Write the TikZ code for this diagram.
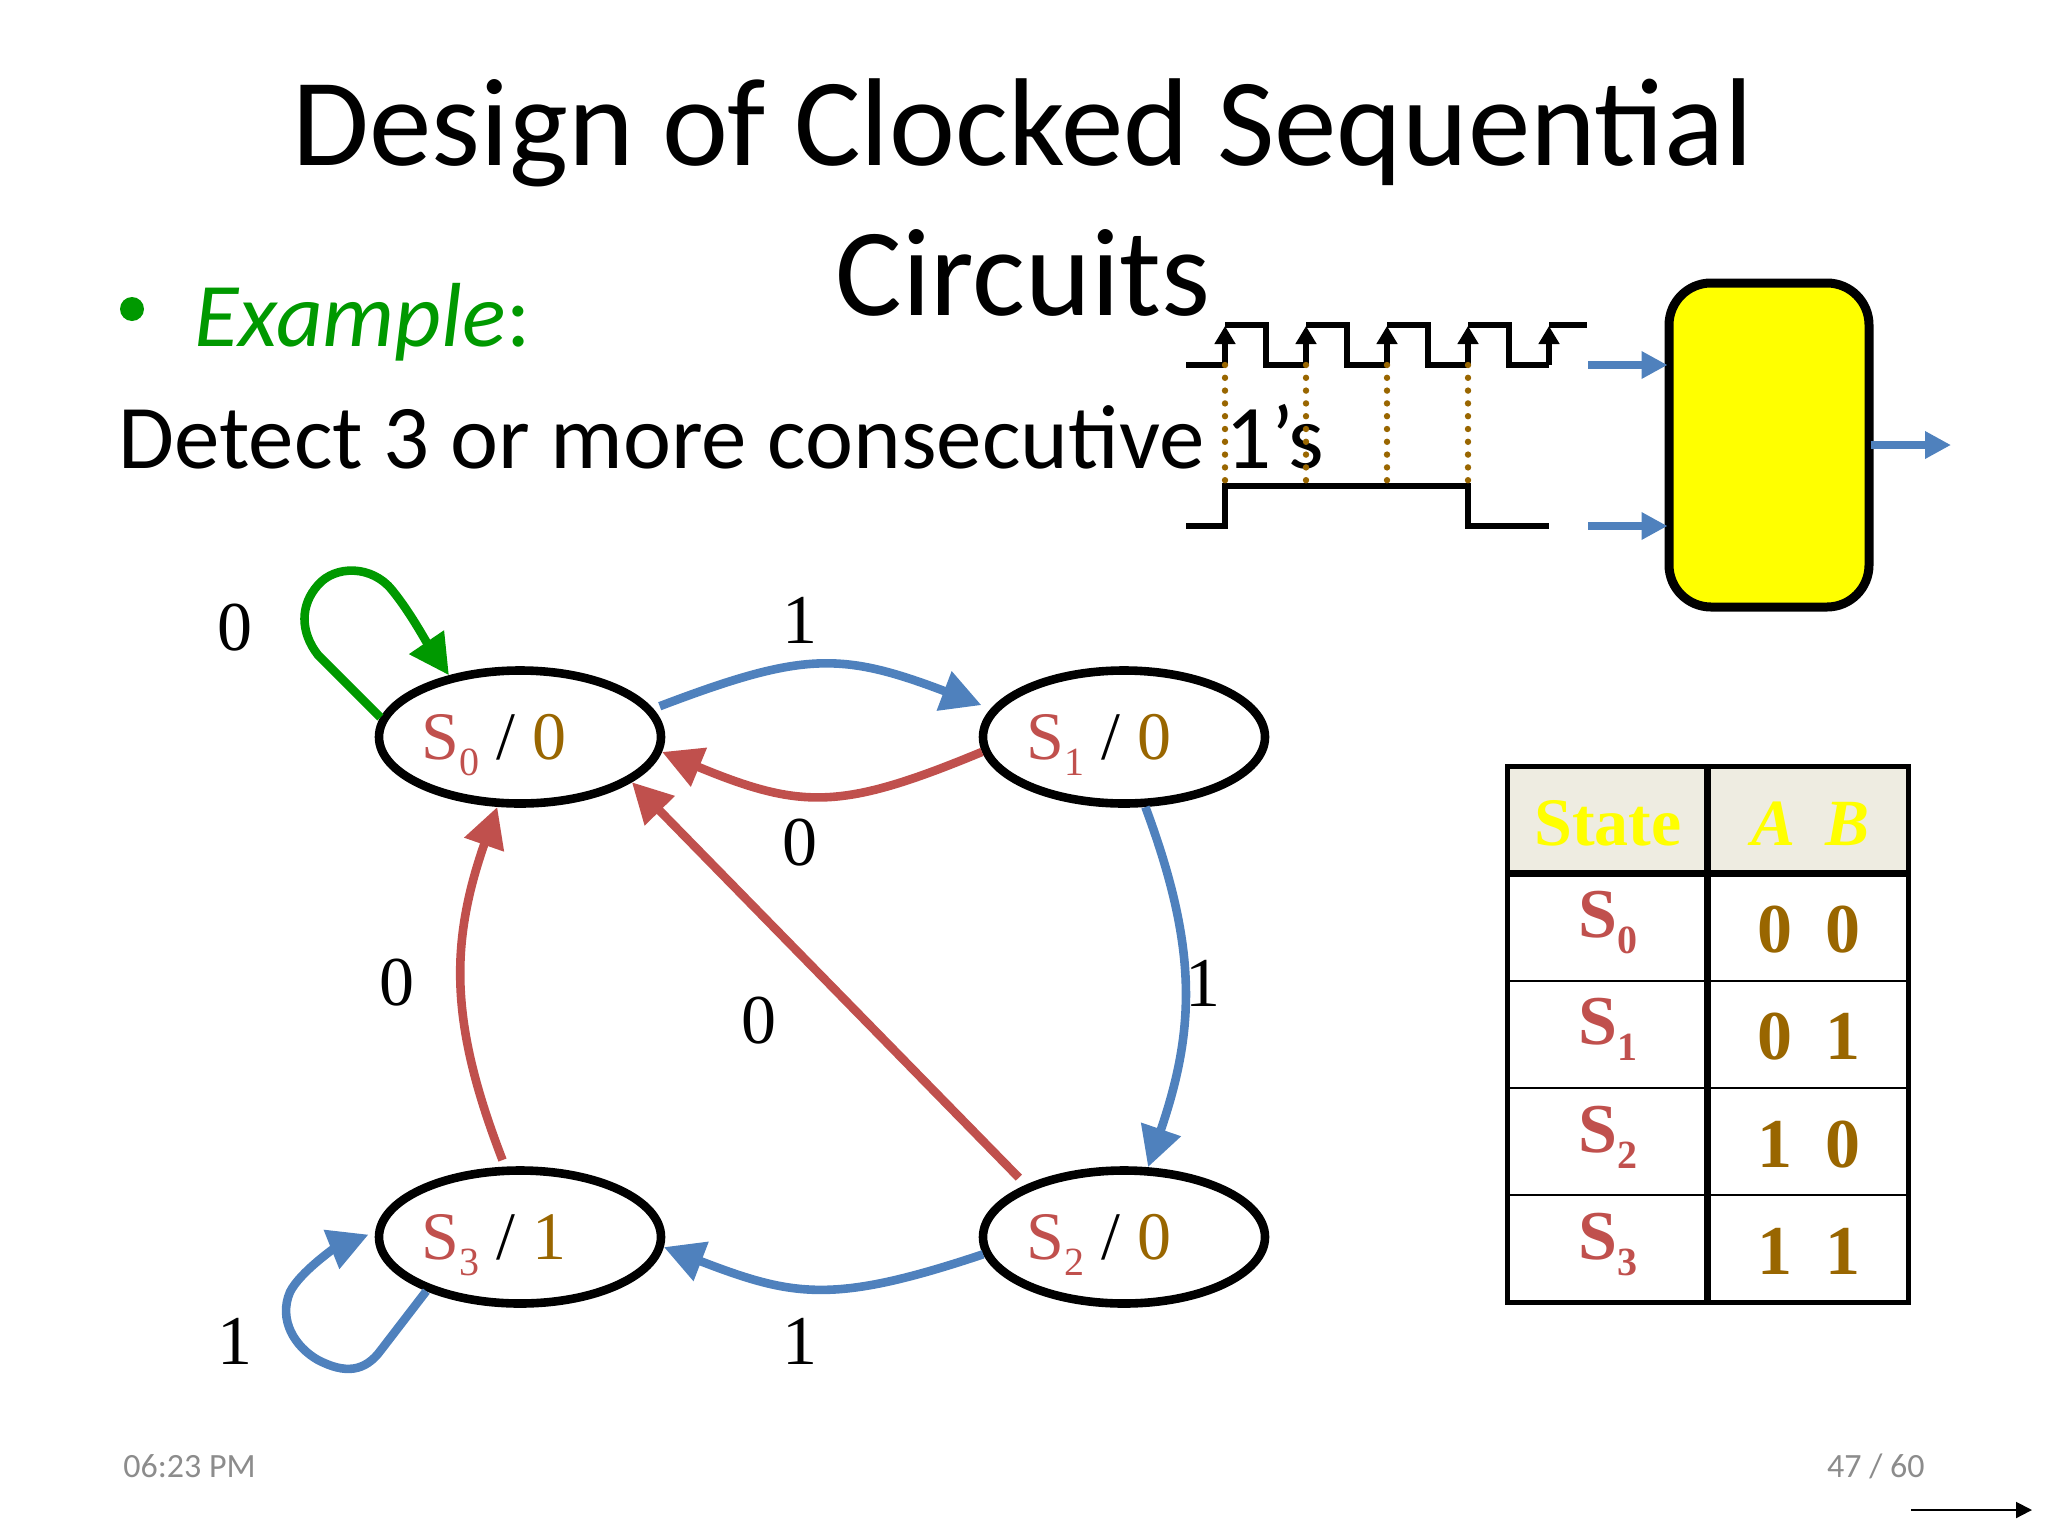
\documentclass[tikz,border=0pt]{standalone}
\usepackage{fontspec}
\setmainfont{Carlito}
\newfontfamily\tms{Liberation Serif}
\usetikzlibrary{shapes.geometric,arrows.meta,calc}
\definecolor{cred}{HTML}{C0504D}
\definecolor{cblue}{HTML}{4F81BD}
\definecolor{cbrown}{HTML}{996600}
\definecolor{cgreen}{HTML}{009900}
\definecolor{chead}{HTML}{EEECE1}
\definecolor{cyel}{RGB}{255,255,0}
\newcommand{\subd}[1]{\raisebox{-8pt}{\fontsize{20}{20}\selectfont #1}}
\newcommand{\stxt}[2]{{\color{cred}S\subd{#1}} / {\color{cbrown}#2}}
\tikzset{
  state/.style={ellipse,draw=black,line width=4.3pt,minimum width=141pt,minimum height=66.5pt,inner sep=0pt},
  stlab/.style={anchor=base west,inner sep=0pt,font=\tms\fontsize{34}{34}\selectfont},
  lab/.style={inner sep=0pt,font=\tms\fontsize{35}{35}\selectfont},
  edge/.style={line width=4.3pt,-{Triangle[length=20pt,width=20pt]}},
  redge/.style={edge,draw=cred},
  bedge/.style={edge,draw=cblue},
  wave/.style={line width=3pt,line join=miter},
  clk/.style={line width=3pt,-{Triangle[length=9pt,width=10pt]}},
  dots/.style={draw=cbrown,line width=3.2pt,line cap=round,dash pattern=on 0pt off 6.4pt},
  sig/.style={draw=cblue,line width=4pt,-{Triangle[length=13pt,width=13pt]}},
  cell/.style={inner sep=0pt,anchor=base,font=\tms\bfseries\fontsize{35}{35}\selectfont},
  foot/.style={inner sep=0pt,text=black!45,font=\fontsize{17}{17}\selectfont},
}
\begin{document}
\begin{tikzpicture}[x=0.5pt,y=-0.5pt]
\useasboundingbox (0,0) rectangle (2048,1536);

% slide text
\node[inner sep=0pt,anchor=base,font=\fontsize{62.5}{62.5}\selectfont] (t1) at (1023,165) {Design of Clocked Sequential};
\node[inner sep=0pt,anchor=base,font=\fontsize{62.5}{62.5}\selectfont] (t2) at (1023,315) {Circuits};
\node[inner sep=0pt,anchor=base west,font=\fontsize{45.5}{45.5}\selectfont] (d) at (118,468) {Detect 3 or more consecutive 1’s};
\node[circle,fill=cgreen,inner sep=0pt,minimum size=12pt] (bul) at (132,309) {};
\node[inner sep=0pt,anchor=base west,text=cgreen,font=\fontsize{45.5}{45.5}\selectfont] (ex) at (194,346) {\itshape Example\upshape:};
\node[foot,anchor=base west] (tm) at (123,1477) {06:23 PM};
\node[foot,anchor=base east] (pg) at (1925,1477) {47 / 60};

% clock
\draw[wave] (1186,365) -- (1225,365);
\foreach \i in {0,...,4}
{
  \coordinate (up\i) at ({1225+81*\i},365);
  \coordinate (tp\i) at ({1225+81*\i},326);
  \draw[clk] (up\i) -- (tp\i);
}
\foreach \i in {0,...,3}
{
  \draw[wave] ({1225+81*\i},325) -- ({1265.5+81*\i},325) -- ({1265.5+81*\i},365) -- ({1306+81*\i},365);
}
\draw[wave] (1549,325) -- (1587,325);

% single pulse
\draw[wave] (1186,526) -- (1225,526) -- (1225,486) -- (1468,486) -- (1468,526) -- (1549,526);
\foreach \x in {1225,1306,1387,1468}
{
  \draw[dots] (\x,365) -- (\x,490);
}

% yellow block
\node[rectangle,rounded corners=21pt,draw=black,line width=4.5pt,fill=cyel,minimum width=100pt,minimum height=162pt,inner sep=0pt] (box) at (1769,445) {};
\coordinate (c1) at (1588,365);
\coordinate (c2) at (1588,526);
\coordinate (c3) at (1951,445);
\draw[sig,shorten >=-1.5pt] (c1) -- (box.west|-c1);
\draw[sig,shorten >=-1.5pt] (c2) -- (box.west|-c2);
\draw[sig,shorten <=-1.5pt] (box.east|-c3) -- (c3);

% states
\node[state] (S0) at (520,737) {};
\node[state] (S1) at (1124,737) {};
\node[state] (S2) at (1124,1237) {};
\node[state] (S3) at (520,1237) {};
\node[stlab] (n0) at (421,759) {\stxt{0}{0}};
\node[stlab] (n1) at (1026,759) {\stxt{1}{0}};
\node[stlab] (n2) at (1026,1259) {\stxt{2}{0}};
\node[stlab] (n3) at (421,1259) {\stxt{3}{1}};

% transitions
\draw[bedge,shorten <=3.5pt,shorten >=5pt] (S0.12) .. controls +(150,-57) and +(-150,-57) .. (S1.168);
\draw[redge] (S1.186) .. controls +(-140,58) and +(140,58) .. (S0.-6);
\draw[bedge] (S1.-73) .. controls +(52,140) and +(48,-140) .. (S2.71);
\draw[redge,shorten <=5pt] (S2.152) -- (S0.-22);
\draw[redge,shorten <=3.5pt] (S3.102) .. controls +(-54,-140) and +(-49,140) .. (S0.-108);
\draw[bedge] (S2.187) .. controls +(-150,50) and +(130,50) .. (S3.-4);
\draw[edge,draw=cgreen,fill=none,-{Triangle[length=20pt,width=20pt,fill=cgreen]}] (S0.172) -- (318,655) .. controls (300,632) and (300,605) .. (318,585) .. controls (335,565) and (372,565) .. (392,590) .. controls (410,612) and (425,640) .. (S0.139);
\draw[bedge,shorten >=3.5pt] (S3.210) -- (381,1350) .. controls (365,1372) and (345,1374) .. (318,1360) .. controls (295,1347) and (278,1320) .. (290,1292) .. controls (300,1272) and (335,1248) .. (S3.178);

% edge labels
\node[lab] (l1) at (235,628) {0};
\node[lab] (l2) at (800,620) {1};
\node[lab] (l3) at (800,843) {0};
\node[lab] (l4) at (397,983) {0};
\node[lab] (l5) at (759,1021) {0};
\node[lab] (l6) at (1203,983) {1};
\node[lab] (l7) at (800,1341) {1};
\node[lab] (l8) at (235,1341) {1};

% table
\fill[chead] (1507,766) rectangle (1908,873);
\draw[line width=3.5pt] (1507,873) -- (1908,873);
\foreach \y in {981,1088,1195}
{
  \draw[line width=1.4pt] (1507,\y) -- (1908,\y);
}
\draw[line width=3.5pt] (1707,766) -- (1707,1302);
\draw[line width=2.5pt] (1507,766) rectangle (1908,1302);
\node[cell,text=cyel,font=\tms\bfseries\fontsize{34}{34}\selectfont] (hs) at (1608,845) {State};
\node[cell,text=cyel,font=\tms\bfseries\fontsize{33}{33}\selectfont] (ha) at (1773,845) {\itshape A};
\node[cell,text=cyel,font=\tms\bfseries\fontsize{33}{33}\selectfont] (hb) at (1847,845) {\itshape B};
\foreach \i/\a/\b in {0/0/0,1/0/1,2/1/0,3/1/1}
{
  \node[cell,text=cred] (r\i) at (1608,{937+107.5*\i}) {S\subd{\i}};
  \node[cell,text=cbrown] (a\i) at (1775,{952+107.5*\i}) {\a};
  \node[cell,text=cbrown] (b\i) at (1843,{952+107.5*\i}) {\b};
}

% page arrow
\coordinate (p1) at (1911,1510);
\coordinate (p2) at (2032,1510);
\draw[line width=1pt,-{Triangle[length=8pt,width=8pt]}] (p1) -- (p2);
\end{tikzpicture}
\end{document}
